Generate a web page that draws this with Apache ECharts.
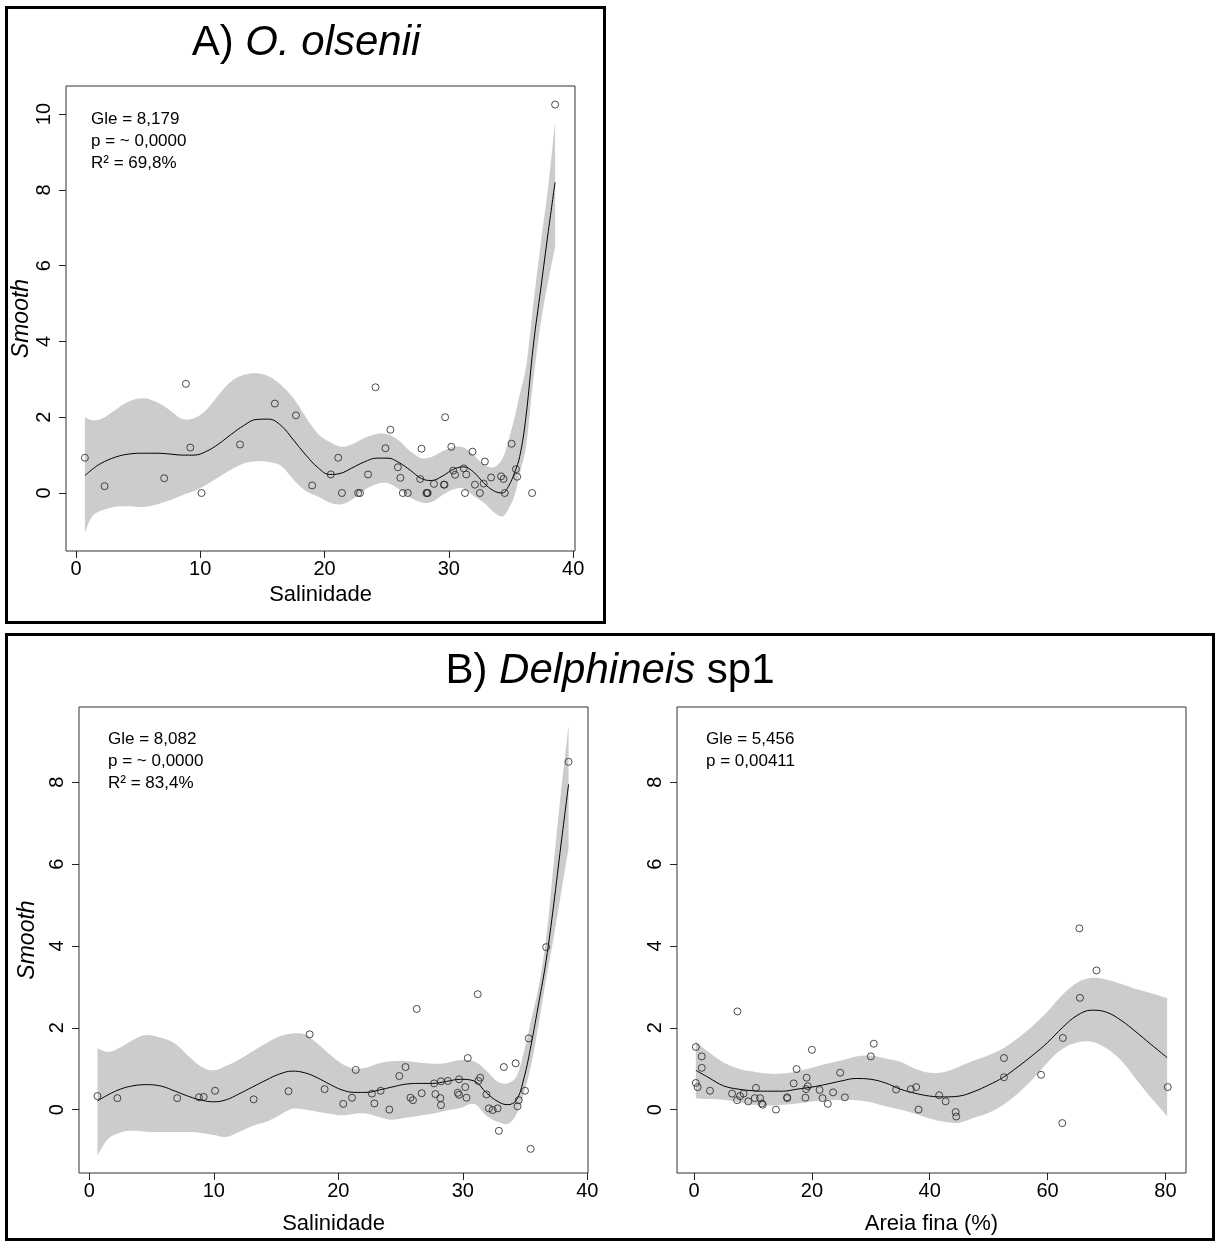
<!DOCTYPE html>
<html>
<head>
<meta charset="utf-8">
<script src="https://cdn.jsdelivr.net/npm/echarts@6/dist/echarts.min.js"></script>
<style>
  html, body { margin: 0; padding: 0; background: #fff; }
  #chart { width: 1218px; height: 1242px; }
</style>
</head>
<body>
<div id="chart"></div>
<script>
// ---------- A) O. olsenii : partial effect of salinity ----------
const olseniiSal = [0.72, 2.3, 7.1, 8.85, 9.2, 10.1, 13.2, 16.0, 17.7, 19.0, 20.5, 21.1, 21.4, 22.7, 22.85, 23.5, 24.1, 24.9, 25.3, 25.9, 26.1, 26.3, 26.7, 27.7, 27.8, 28.2, 28.25, 28.3, 28.8, 29.6, 29.65, 29.7, 30.2, 30.35, 30.5, 31.2, 31.3, 31.4, 31.9, 32.1, 32.5, 32.8, 32.9, 33.4, 34.2, 34.4, 34.5, 35.05, 35.4, 35.5, 36.7, 38.55];
const olseniiResid = [0.93, 0.18, 0.39, 2.88, 1.2, 0, 1.28, 2.36, 2.05, 0.2, 0.49, 0.93, 0, 0, 0, 0.49, 2.79, 1.18, 1.67, 0.68, 0.4, 0, 0, 0.37, 1.17, 0, 0, 0, 0.24, 0.22, 0.22, 2.0, 1.22, 0.59, 0.48, 0.65, 0, 0.49, 1.09, 0.22, 0, 0.25, 0.83, 0.41, 0.44, 0.37, 0, 1.3, 0.63, 0.43, 0, 10.25];
const olseniiGridX = [0.72, 1.3, 2, 3.2, 4.3, 5.4, 6.5, 7.5, 8.6, 9.5, 10.5, 11.5, 12.5, 13.5, 14.5, 15.5, 16.5, 17.5, 18.5, 19.5, 20.4, 21.3, 22.2, 23.2, 24.2, 25.1, 26, 26.9, 27.8, 28.6, 29.5, 30.4, 31.2, 32, 32.8, 33.6, 34.3, 34.8, 35.3, 35.7, 36.2, 36.8, 37.4, 38, 38.55];
const olseniiFit = [0.46, 0.62, 0.78, 0.95, 1.03, 1.05, 1.05, 1.03, 1.0, 1.0, 1.1, 1.3, 1.55, 1.78, 1.94, 1.95, 1.78, 1.40, 1.0, 0.66, 0.49, 0.52, 0.66, 0.82, 0.92, 0.92, 0.8, 0.6, 0.38, 0.33, 0.45, 0.63, 0.69, 0.55, 0.27, 0.06, 0.0, 0.18, 0.55, 0.96, 2.0, 3.9, 5.4, 6.9, 8.2];
const olseniiUpper = [1.99, 1.92, 1.95, 2.2, 2.42, 2.5, 2.4, 2.2, 1.95, 1.97, 2.2, 2.6, 2.95, 3.12, 3.16, 3.08, 2.85, 2.5, 2.0, 1.55, 1.35, 1.22, 1.28, 1.45, 1.56, 1.55, 1.38, 1.1, 0.92, 0.95, 1.1, 1.22, 1.2, 1.0, 0.75, 0.68, 0.9, 1.4, 2.0, 2.6, 3.3, 5.0, 6.6, 8.1, 9.8];
const olseniiLower = [-1.04, -0.62, -0.47, -0.36, -0.35, -0.37, -0.3, -0.2, -0.05, 0.05, 0.22, 0.42, 0.62, 0.78, 0.84, 0.82, 0.72, 0.35, 0.05, -0.1, -0.25, -0.3, -0.18, 0.08, 0.24, 0.26, 0.1, -0.12, -0.25, -0.24, -0.05, 0.1, 0.12, -0.08, -0.25, -0.5, -0.62, -0.42, -0.05, 0.5, 1.2, 3.0, 4.5, 5.6, 6.5];

// ---------- B) Delphineis sp1 : partial effect of salinity ----------
const delphSal = [0.65, 2.25, 7.06, 8.81, 9.19, 10.1, 13.2, 16.0, 17.7, 18.9, 20.4, 21.1, 21.4, 22.7, 22.9, 23.4, 24.1, 24.9, 25.4, 25.8, 26.0, 26.3, 26.7, 27.7, 27.8, 28.2, 28.25, 28.25, 28.8, 29.6, 29.7, 29.7, 30.2, 30.3, 30.4, 31.2, 31.25, 31.4, 31.9, 32.1, 32.4, 32.8, 32.9, 33.3, 34.25, 34.4, 34.5, 35.0, 35.3, 35.45, 36.7, 38.5];
const delphSalResid = [0.33, 0.28, 0.28, 0.3, 0.31, 0.46, 0.25, 0.45, 1.84, 0.5, 0.14, 0.29, 0.97, 0.39, 0.15, 0.46, 0.0, 0.82, 1.04, 0.29, 0.23, 2.46, 0.4, 0.64, 0.38, 0.28, 0.69, 0.11, 0.70, 0.41, 0.36, 0.74, 0.55, 0.29, 1.26, 2.82, 0.70, 0.78, 0.37, 0.03, -0.01, 0.03, -0.52, 1.04, 1.13, 0.08, 0.23, 0.46, 1.74, -0.96, 3.97, 8.5];
const delphSalGridX = [0.65, 1.5, 2.5, 3.5, 4.6, 5.8, 6.9, 8, 9, 10, 11, 12, 13.1, 14.2, 15.2, 16.3, 17.3, 18.3, 19.3, 20.3, 21.3, 22.3, 23.3, 24.3, 25.4, 26.5, 27.6, 28.7, 29.8, 30.9, 31.9, 32.8, 33.6, 34.3, 34.9, 35.5, 36.1, 36.7, 37.3, 37.9, 38.5];
const delphSalFit = [0.21, 0.36, 0.5, 0.58, 0.61, 0.57, 0.45, 0.32, 0.23, 0.19, 0.24, 0.38, 0.55, 0.72, 0.86, 0.94, 0.9, 0.78, 0.62, 0.48, 0.42, 0.42, 0.48, 0.55, 0.62, 0.64, 0.64, 0.69, 0.74, 0.7, 0.41, 0.2, 0.12, 0.23, 0.75, 1.6, 2.6, 3.65, 5.0, 6.5, 7.95];
const delphSalUpper = [1.49, 1.41, 1.52, 1.7, 1.82, 1.75, 1.61, 1.3, 1.05, 0.96, 1.07, 1.22, 1.42, 1.62, 1.78, 1.86, 1.84, 1.62, 1.35, 1.12, 1.0, 1.03, 1.13, 1.18, 1.19, 1.15, 1.12, 1.14, 1.21, 1.18, 0.95, 0.68, 0.64, 0.8, 1.4, 2.2, 3.0, 4.2, 6.0, 7.8, 9.4];
const delphSalLower = [-1.12, -0.72, -0.56, -0.52, -0.54, -0.55, -0.55, -0.55, -0.57, -0.62, -0.67, -0.55, -0.4, -0.3, -0.15, 0.02, 0.0, -0.05, -0.1, -0.14, -0.1, -0.1, -0.18, -0.25, -0.2, -0.15, -0.1, -0.02, 0.04, 0.14, -0.15, -0.3, -0.35, -0.12, 0.4, 1.1, 2.1, 3.2, 4.2, 5.3, 6.4];

// ---------- B) Delphineis sp1 : partial effect of fine sand ----------
const delphSand = [0.3, 1.3, 1.3, 0.3, 0.6, 2.7, 6.45, 7.36, 7.3, 7.8, 8.4, 9.2, 10.5, 10.3, 11.2, 11.5, 11.65, 13.9, 15.8, 15.8, 16.9, 17.4, 18.9, 19.1, 19.0, 19.3, 20.0, 21.3, 21.8, 22.7, 23.6, 24.8, 25.6, 30.0, 30.5, 34.3, 36.8, 37.7, 38.1, 41.6, 42.7, 44.4, 44.5, 52.6, 52.6, 58.9, 62.6, 62.5, 65.5, 65.4, 68.3, 80.4];
const delphSandResid = [1.53, 1.30, 1.02, 0.65, 0.55, 0.46, 0.39, 2.4, 0.23, 0.33, 0.39, 0.2, 0.53, 0.28, 0.28, 0.15, 0.12, 0.0, 0.30, 0.28, 0.64, 0.99, 0.29, 0.78, 0.50, 0.57, 1.46, 0.48, 0.28, 0.14, 0.42, 0.9, 0.30, 1.30, 1.61, 0.49, 0.50, 0.55, 0.0, 0.35, 0.2, -0.06, -0.17, 1.26, 0.79, 0.85, 1.75, -0.33, 2.73, 4.43, 3.4, 0.55];
const delphSandGridX = [0.3, 2.5, 5, 7.5, 10, 12.5, 15, 17.5, 20, 22.5, 25, 27.5, 30, 32.5, 35, 37.5, 40, 42.5, 45, 47.5, 50, 52.5, 55, 57.5, 60, 62.5, 65, 67.5, 70, 72.5, 75, 77.5, 80.3];
const delphSandFit = [0.96, 0.78, 0.58, 0.5, 0.46, 0.45, 0.45, 0.5, 0.55, 0.62, 0.7, 0.76, 0.74, 0.65, 0.5, 0.4, 0.33, 0.31, 0.33, 0.44, 0.6, 0.79, 1.05, 1.33, 1.64, 2.0, 2.3, 2.43, 2.38, 2.18, 1.9, 1.6, 1.27];
const delphSandUpper = [1.65, 1.4, 1.15, 1.0, 0.93, 0.88, 0.88, 0.94, 1.02, 1.12, 1.2, 1.3, 1.32, 1.25, 1.17, 1.0, 0.9, 0.92, 1.05, 1.2, 1.33, 1.5, 1.75, 2.05, 2.4, 2.8, 3.1, 3.22, 3.18, 3.07, 2.95, 2.85, 2.72];
const delphSandLower = [0.28, 0.26, 0.24, 0.18, 0.12, 0.1, 0.12, 0.15, 0.2, 0.23, 0.23, 0.23, 0.18, 0.08, 0.0, -0.1, -0.22, -0.3, -0.32, -0.2, -0.08, 0.12, 0.4, 0.75, 1.15, 1.48, 1.64, 1.66, 1.5, 1.2, 0.75, 0.3, -0.16];

// ---------- tick labels and texts ----------
const salinityTicks = [0, 10, 20, 30, 40];
const sandTicks = [0, 20, 40, 60, 80];
const smoothTicksA = [0, 2, 4, 6, 8, 10];
const smoothTicksB = [0, 2, 4, 6, 8];
const statsA = ['Gle = 8,179', 'p = ~ 0,0000', 'R² = 69,8%'];
const statsBSal = ['Gle = 8,082', 'p = ~ 0,0000', 'R² = 83,4%'];
const statsBSand = ['Gle = 5,456', 'p = 0,00411'];

const FONT = '"Liberation Sans", Arial, Helvetica, sans-serif';
const INK = '#222';

function pairs(xs, ys) { return xs.map((x, i) => [x, ys[i]]); }

function xAxisFor(idx, min, max, ticks, name, gap) {
  return {
    type: 'value', gridIndex: idx, min: min, max: max,
    splitLine: { show: false },
    axisLine: { show: false, onZero: false },
    axisTick: { show: true, inside: false, length: 7, customValues: ticks, lineStyle: { color: INK } },
    axisLabel: { customValues: ticks, color: '#000', fontSize: 20, fontFamily: FONT, margin: 8 },
    name: name, nameLocation: 'middle', nameGap: gap,
    nameTextStyle: { color: '#000', fontSize: 22, fontFamily: FONT }
  };
}

function yAxisFor(idx, min, max, ticks, showName, gap) {
  return {
    type: 'value', gridIndex: idx, min: min, max: max,
    splitLine: { show: false },
    axisLine: { show: false, onZero: false },
    axisTick: { show: true, inside: false, length: 7, customValues: ticks, lineStyle: { color: INK } },
    axisLabel: { customValues: ticks, color: '#000', fontSize: 20, fontFamily: FONT, rotate: 90, margin: 12 },
    name: showName ? 'Smooth' : '', nameLocation: 'middle', nameGap: gap, nameRotate: 90,
    nameTextStyle: { color: '#000', fontSize: 23, fontStyle: 'italic', fontFamily: FONT }
  };
}

// confidence band drawn as one closed, smoothed polygon: upper edge left→right,
// lower edge right→left; corner points are doubled so the two ends stay straight
function bandSeries(idx, gx, lo, hi) {
  return {
    type: 'custom', coordinateSystem: 'cartesian2d', xAxisIndex: idx, yAxisIndex: idx,
    silent: true, z: 1, clip: true,
    data: gx.map((x, i) => [x, lo[i], hi[i]]),
    encode: { x: 0, y: [1, 2] },
    renderItem: function (params, api) {
      if (params.dataIndex !== 0) return null;
      const top = gx.map((x, i) => api.coord([x, hi[i]]));
      const bottom = gx.map((x, i) => api.coord([x, lo[i]])).reverse();
      const pts = [top[0]].concat(top, [top[top.length - 1]], [bottom[0]], bottom, [bottom[bottom.length - 1]]);
      return {
        type: 'polygon',
        shape: { points: pts, smooth: 0.35 },
        style: { fill: '#cccccc', stroke: null }
      };
    }
  };
}

// fitted smooth and the partial residuals
function panelSeries(idx, gx, fit, lo, hi, px, py) {
  return [
    bandSeries(idx, gx, lo, hi),
    {
      type: 'line', xAxisIndex: idx, yAxisIndex: idx, smooth: 0.4, symbol: 'none', silent: true,
      lineStyle: { color: '#000', width: 1 }, data: pairs(gx, fit), z: 3
    },
    {
      type: 'scatter', xAxisIndex: idx, yAxisIndex: idx, symbol: 'circle', symbolSize: 7, silent: true,
      itemStyle: { color: 'rgba(255,255,255,0)', borderColor: INK, borderWidth: 1 },
      data: pairs(px, py), z: 4
    }
  ];
}

function statText(x, y, lines) {
  return {
    type: 'text', left: x, top: y, silent: true,
    style: { text: lines.join('\n'), fill: '#000', font: '17px ' + FONT, lineHeight: 22 }
  };
}

const gridStyle = { show: true, borderColor: '#333', borderWidth: 1, backgroundColor: 'transparent' };

const option = {
  animation: false,
  backgroundColor: '#fff',
  grid: [
    Object.assign({ left: 66, top: 86, width: 509, height: 465 }, gridStyle),
    Object.assign({ left: 79, top: 707, width: 509, height: 466 }, gridStyle),
    Object.assign({ left: 677, top: 707, width: 509, height: 466 }, gridStyle)
  ],
  xAxis: [
    xAxisFor(0, -0.8, 40.15, salinityTicks, 'Salinidade', 33),
    xAxisFor(1, -0.83, 40.06, salinityTicks, 'Salinidade', 40),
    xAxisFor(2, -2.9, 83.5, sandTicks, 'Areia fina (%)', 40)
  ],
  yAxis: [
    yAxisFor(0, -1.53, 10.74, smoothTicksA, true, 33),
    yAxisFor(1, -1.55, 9.84, smoothTicksB, true, 40),
    yAxisFor(2, -1.55, 9.84, smoothTicksB, false, 40)
  ],
  series: [].concat(
    panelSeries(0, olseniiGridX, olseniiFit, olseniiLower, olseniiUpper, olseniiSal, olseniiResid),
    panelSeries(1, delphSalGridX, delphSalFit, delphSalLower, delphSalUpper, delphSal, delphSalResid),
    panelSeries(2, delphSandGridX, delphSandFit, delphSandLower, delphSandUpper, delphSand, delphSandResid)
  ),
  graphic: [
    // panel frames
    { type: 'rect', shape: { x: 6.5, y: 7.5, width: 598, height: 615 }, style: { fill: 'none', stroke: '#000', lineWidth: 3 }, silent: true },
    { type: 'rect', shape: { x: 6.5, y: 634.5, width: 1207, height: 605 }, style: { fill: 'none', stroke: '#000', lineWidth: 3 }, silent: true },
    // panel titles
    {
      type: 'text', x: 306, y: 43, silent: true,
      style: {
        text: '{n|A) }{i|O. olsenii}', align: 'center', verticalAlign: 'middle',
        rich: {
          n: { fontSize: 42, fontFamily: FONT, fill: '#000' },
          i: { fontSize: 42, fontFamily: FONT, fontStyle: 'italic', fill: '#000' }
        }
      }
    },
    {
      type: 'text', x: 610, y: 671, silent: true,
      style: {
        text: '{n|B) }{i|Delphineis}{n| sp1}', align: 'center', verticalAlign: 'middle',
        rich: {
          n: { fontSize: 42, fontFamily: FONT, fill: '#000' },
          i: { fontSize: 42, fontFamily: FONT, fontStyle: 'italic', fill: '#000' }
        }
      }
    },
    statText(91, 108, statsA),
    statText(108, 728, statsBSal),
    statText(706, 728, statsBSand)
  ]
};

const chart = echarts.init(document.getElementById('chart'), null, { renderer: 'canvas' });
chart.setOption(option);
</script>
</body>
</html>
